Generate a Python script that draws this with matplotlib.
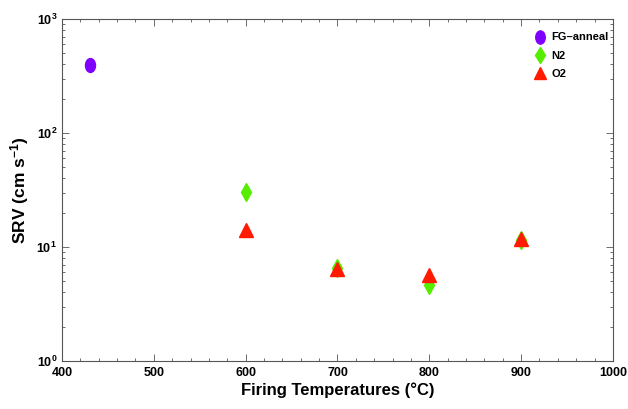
"""SRV versus firing temperature for annealed, N2- and O2-fired samples."""

import matplotlib

matplotlib.use("Agg")
import matplotlib.pyplot as plt
from matplotlib.path import Path
from matplotlib.ticker import FixedLocator, FixedFormatter, MultipleLocator, LogLocator, NullFormatter
from matplotlib.transforms import Affine2D

# data
fg_temp = [430]
fg_srv = [395]
n2_temp = [600, 700, 800, 900]
n2_srv = [30.5, 6.6, 4.6, 11.5]
o2_temp = [600, 700, 800, 900]
o2_srv = [14.1, 6.4, 5.7, 11.8]

x_ticks = [400, 500, 600, 700, 800, 900, 1000]
y_ticks = [1, 10, 100, 1000]
y_labels = [r"$10^{0}$", r"$10^{1}$", r"$10^{2}$", r"$10^{3}$"]

plt.rcParams["font.family"] = ["Liberation Sans", "DejaVu Sans"]
plt.rcParams["font.weight"] = "bold"
plt.rcParams["mathtext.fontset"] = "custom"
plt.rcParams["mathtext.rm"] = "Liberation Sans:bold"
plt.rcParams["mathtext.bf"] = "Liberation Sans:bold"
plt.rcParams["mathtext.default"] = "bf"

ellipse = Path.unit_circle().transformed(Affine2D().scale(0.72, 1.0))

fig = plt.figure(figsize=(6.28, 4.09), dpi=100)
ax = fig.add_axes([0.0987, 0.1174, 0.8773, 0.8361])

ax.plot(fg_temp, fg_srv, linestyle="none", marker=ellipse, markersize=10,
        color="#7f00ff", markeredgecolor="#7f00ff", label="FG\u2013anneal")
ax.plot(n2_temp, n2_srv, linestyle="none", marker="d", markersize=8.7,
        color="#55ee00", markeredgecolor="#55ee00", label="N2")
ax.plot(o2_temp, o2_srv, linestyle="none", marker="^", markersize=9.5,
        color="#ff1a00", markeredgecolor="#ff1a00", label="O2")

ax.set_yscale("log")
ax.set_xlim(400, 1000)
ax.set_ylim(1, 1000)

ax.xaxis.set_major_locator(FixedLocator(x_ticks))
ax.xaxis.set_minor_locator(MultipleLocator(20))
ax.yaxis.set_major_locator(FixedLocator(y_ticks))
ax.yaxis.set_major_formatter(FixedFormatter(y_labels))
ax.yaxis.set_minor_locator(LogLocator(base=10, subs=range(2, 10)))
ax.yaxis.set_minor_formatter(NullFormatter())

ax.tick_params(which="both", direction="in", top=True, right=True,
               labelsize=9, width=0.6, color="#555555")
ax.tick_params(which="major", length=5)
ax.tick_params(which="minor", length=2.5)
ax.tick_params(axis="x", pad=4)
for spine in ax.spines.values():
    spine.set_linewidth(0.8)
    spine.set_color("#555555")

ax.set_xlabel("Firing Temperatures (\u00b0C)", fontsize=12, fontweight="bold", labelpad=3)
ax.set_ylabel(r"SRV (cm s$^{-1}$)", fontsize=12.5, fontweight="bold", labelpad=4)

ax.legend(loc="upper right", bbox_to_anchor=(1.018, 1.003), frameon=False,
          fontsize=8, handlelength=1.0, handletextpad=0.5, labelspacing=0.75,
          markerscale=0.95, borderaxespad=0.9)

fig.savefig("out.png", dpi=100)
